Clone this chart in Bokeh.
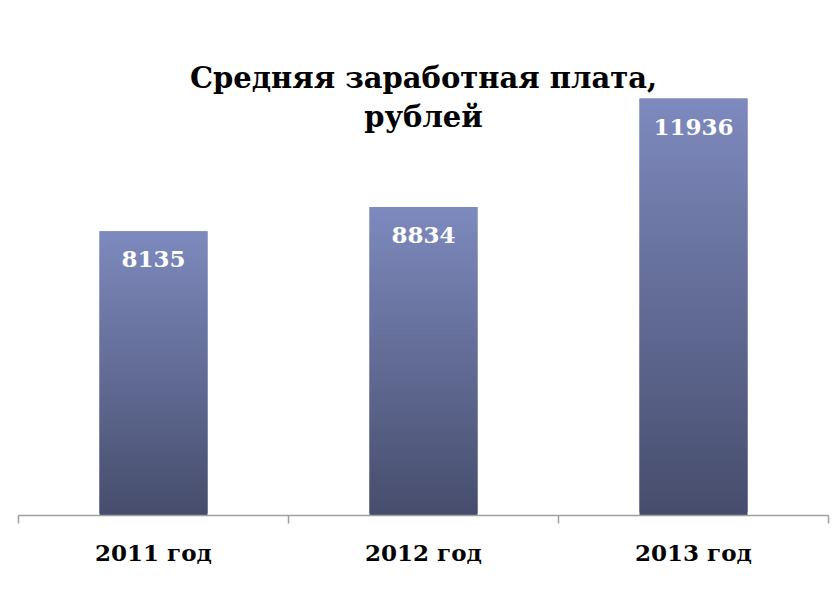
import numpy as np
from bokeh.plotting import figure
from bokeh.models import FixedTicker, ColumnDataSource
from bokeh.core.properties import value
from bokeh.embed import file_html
from bokeh.resources import INLINE

categories = ["2011 год", "2012 год", "2013 год"]
salaries = [8135, 8834, 11936]
title_lines = ["Средняя заработная плата,", "рублей"]

top_rgb = np.array([126, 138, 190])
bot_rgb = np.array([70, 77, 108])
N_SEG = 120
BAR_W = 0.4
FONT = "DejaVu Serif"

positions = [i + 0.5 for i in range(len(categories))]

p = figure(width=830, height=584, output_backend="svg", toolbar_location=None,
           x_range=(0, len(categories)), y_range=(0, 14000),
           y_axis_location=None, min_border_left=18, min_border_right=2,
           min_border_top=26, min_border_bottom=69)
p.outline_line_color = None
p.xgrid.visible = False
p.ygrid.visible = False
p.background_fill_color = "white"
p.border_fill_color = "white"

# gradient bars built from data: each bar split into overlapping slices from 0 to its value
lefts, rights, bottoms, tops, colors = [], [], [], [], []
for x, v in zip(positions, salaries):
    edges = np.linspace(0, v, N_SEG + 1)
    for k in range(N_SEG):
        t = (k + 0.5) / N_SEG
        c = bot_rgb + (top_rgb - bot_rgb) * t
        lefts.append(x - BAR_W / 2)
        rights.append(x + BAR_W / 2)
        bottoms.append(edges[k])
        tops.append(edges[min(k + 2, N_SEG)])
        colors.append("#%02x%02x%02x" % tuple(int(round(ch)) for ch in c))
src = ColumnDataSource(dict(left=lefts, right=rights, bottom=bottoms, top=tops, color=colors))
p.quad(left="left", right="right", bottom="bottom", top="top", fill_color="color",
       line_color=None, source=src)

# value labels
lab_src = ColumnDataSource(dict(x=positions, y=salaries, t=[str(v) for v in salaries]))
p.text(x="x", y="y", text="t", source=lab_src, text_align="center", text_baseline="middle",
       y_offset=28, text_color="white", text_font=value(FONT), text_font_style="bold",
       text_font_size="23px")

# title
p.text(x=[1.5, 1.5], y=[14000, 14000], text=title_lines, text_align="center",
       text_baseline="middle", y_offset=[51, 90], text_color="black",
       text_font=value(FONT), text_font_style="bold", text_font_size="29px")

# x axis
ax = p.xaxis[0]
ax.ticker = FixedTicker(ticks=positions, minor_ticks=list(range(len(categories) + 1)))
ax.major_label_overrides = {pos: c for pos, c in zip(positions, categories)}
ax.major_tick_line_color = None
ax.minor_tick_out = 8
ax.minor_tick_in = 0
ax.minor_tick_line_color = "#a0a0a0"
ax.minor_tick_line_width = 1.5
ax.axis_line_color = "#a0a0a0"
ax.axis_line_width = 1.5
ax.major_label_standoff = 15
ax.major_label_text_font = FONT
ax.major_label_text_font_style = "bold"
ax.major_label_text_font_size = "23px"
ax.major_label_text_color = "black"

open("out.html", "w").write(file_html(p, INLINE))
